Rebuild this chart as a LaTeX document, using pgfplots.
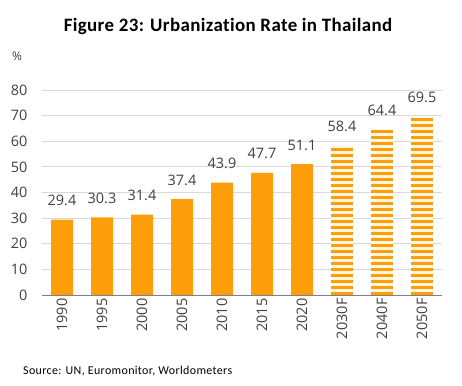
\documentclass[border=0pt]{standalone}
\usepackage{pgfplots}
\pgfplotsset{compat=1.18}
\usepackage{fontspec}
\setmainfont[Ligatures=NoCommon]{Carlito}
\newfontfamily\numfont{Open Sans}
\definecolor{barorange}{RGB}{255,158,11}
\definecolor{palebar}{RGB}{255,246,224}
\definecolor{txtgrey}{RGB}{64,64,64}
\definecolor{gridgrey}{RGB}{217,217,217}
\begin{document}
\begin{tikzpicture}
\path[use as bounding box] (0,0) rectangle (462bp,386bp);
\node[font=\fontsize{19}{22}\selectfont\bfseries\addfontfeature{LetterSpace=2,Ligatures=NoCommon}, text=black, anchor=base] at (228bp,354bp) {Figure 23: Urbanization Rate in Thailand};
\node[font=\numfont\fontsize{12}{14}\selectfont, text=txtgrey, anchor=base] at (17bp,325bp) {\%};
\node[font=\fontsize{12}{14}\selectfont\addfontfeature{LetterSpace=3}, text=black, anchor=base west, inner sep=0pt] at (23bp,12bp) {Source: UN, Euromonitor, Worldometers};
\begin{axis}[
  at={(42bp,91bp)}, anchor=south west,
  scale only axis, width=400bp, height=205bp,
  xmin=-0.5, xmax=9.5, ymin=0, ymax=80,
  ytick={0,10,...,80},
  xtick={0,...,9},
  xticklabels={1990,1995,2000,2005,2010,2015,2020,2030F,2040F,2050F},
  xticklabel style={rotate=90, anchor=east, font=\numfont\fontsize{14.5}{17}\selectfont, text=txtgrey},
  yticklabel style={font=\numfont\fontsize{14.5}{17}\selectfont, text=txtgrey, xshift=-11bp},
  /pgf/number format/assume math mode=true,
  major tick length=0pt,
  ymajorgrids, grid style={gridgrey, line width=0.8bp},
  axis line style={draw=none},
  clip=false,
]
\addplot[ybar, bar width=22bp, bar shift=0pt, fill=barorange, draw=none,
  nodes near coords={\pgfmathprintnumber[fixed,fixed zerofill,precision=1,assume math mode=true]{\pgfplotspointmeta}},
  nodes near coords style={font=\numfont\fontsize{14.5}{17}\selectfont, text=txtgrey, anchor=base, inner sep=0pt, yshift=14bp}] coordinates {
(0,29.4) (1,30.3) (2,31.4) (3,37.4) (4,43.9) (5,47.7) (6,51.1)};
\addplot[ybar, bar width=22bp, bar shift=0pt, draw=none, fill=palebar] coordinates {
(7,58.4) (8,64.4) (9,69.5)};
\addplot[ycomb, no markers, draw=barorange, line width=22bp, dash pattern=on 3bp off 3bp,
  nodes near coords={\pgfmathprintnumber[fixed,fixed zerofill,precision=1,assume math mode=true]{\pgfplotspointmeta}},
  nodes near coords style={font=\numfont\fontsize{14.5}{17}\selectfont, text=txtgrey, anchor=base, inner sep=0pt, yshift=14bp, solid}] coordinates {
(7,58.4) (8,64.4) (9,69.5)};
\draw[gray, line width=0.8bp] (axis cs:-0.5,0) -- (axis cs:9.5,0);
\end{axis}
\end{tikzpicture}
\end{document}
